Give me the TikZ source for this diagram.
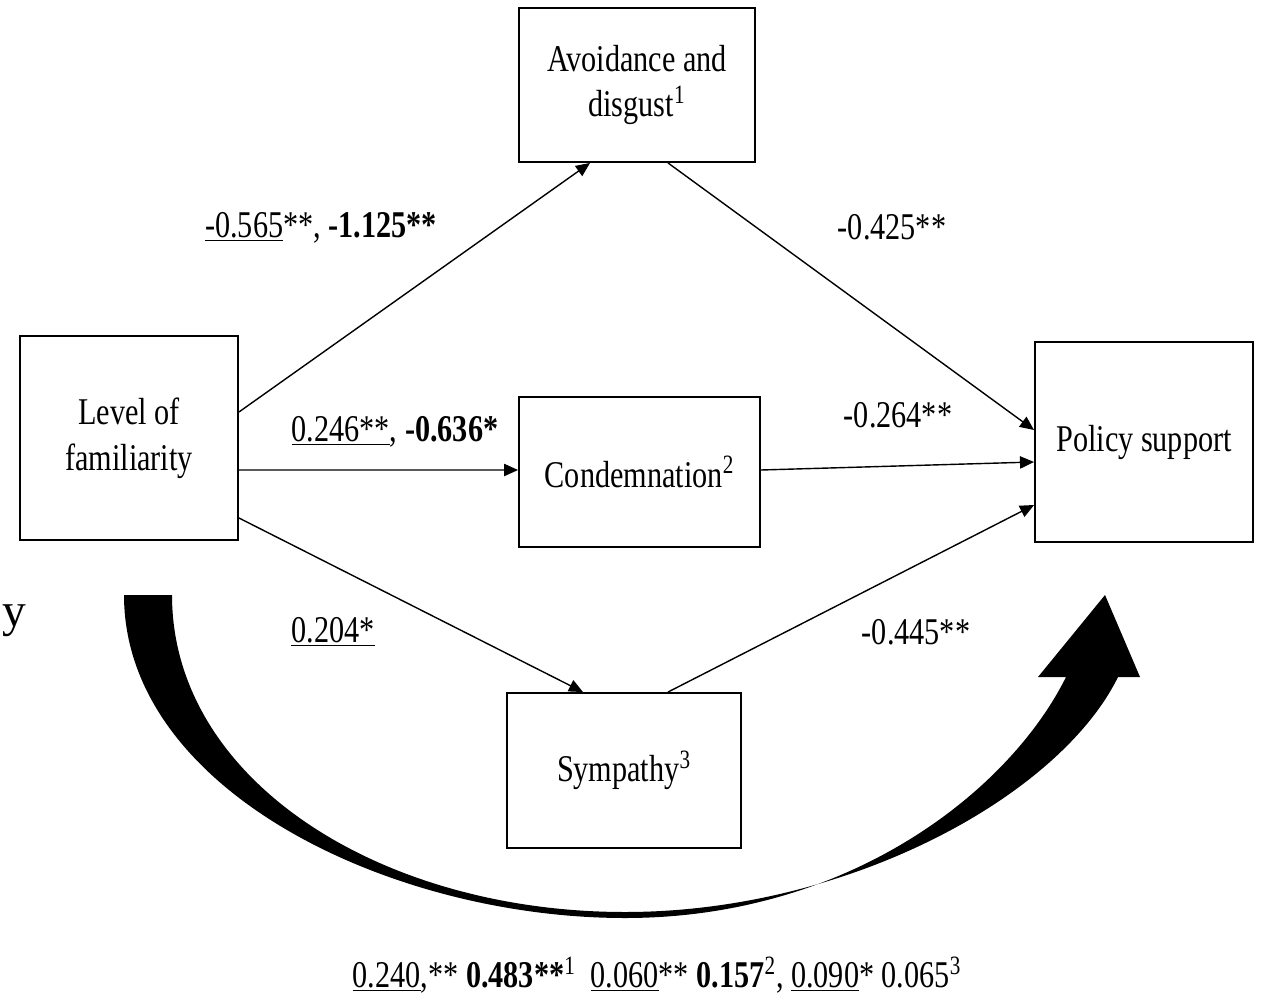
\documentclass[tikz,border=0pt]{standalone}
\usepackage{fontspec}
\setmainfont{Liberation Serif}[FakeStretch=0.8]
\newfontfamily\fontpiena{Liberation Serif}
\usetikzlibrary{arrows.meta}

\begin{document}
\begin{tikzpicture}[x=0.02cm, y=-0.02cm,
	scatola/.style={draw, line width=1.1pt, rectangle, align=center, inner sep=0pt, font=\fontsize{21.5}{26}\selectfont},
	freccia/.style={-{Triangle[length=8pt, width=7pt]}, line width=0.8pt},
	etichetta/.style={inner sep=0pt, font=\fontsize{21.5}{26}\selectfont}]
		
		\useasboundingbox (0,0) rectangle (1263,1000);
		
		%Disegno i nodi dello schema
		\node (livelloFamiliarita) at (129,438) [scatola, minimum width=4.36cm, minimum height=4.08cm]{Level of\\familiarity};
		
		\node (evitamentoDisgusto) at (637,85) [scatola, minimum width=4.72cm, minimum height=3.08cm]{Avoidance and\\disgust\textsuperscript{1}};
		
		\node (condanna) at (639.5,472) [scatola, minimum width=4.82cm, minimum height=3.0cm]{Condemnation\textsuperscript{2}};
		
		\node (simpatia) at (624,770.5) [scatola, minimum width=4.68cm, minimum height=3.1cm]{Sympathy\textsuperscript{3}};
		
		\node (supportoPolitiche) at (1144,442) [scatola, minimum width=4.36cm, minimum height=4.0cm]{Policy support};
		
		%Disegno i collegamenti
		\draw[freccia] ([yshift=0.52cm]livelloFamiliarita.east) -- ([xshift=-0.94cm]evitamentoDisgusto.south);
		
		\draw[freccia] ([yshift=-0.64cm]livelloFamiliarita.east) -- ([yshift=0.04cm]condanna.west);
		
		\draw[freccia] ([yshift=-1.6cm]livelloFamiliarita.east) -- ([xshift=-0.82cm]simpatia.north);
		
		\draw[freccia] ([xshift=0.62cm]evitamentoDisgusto.south) -- ([yshift=0.24cm]supportoPolitiche.west);
		
		\draw[freccia] ([yshift=0.04cm]condanna.east) -- ([yshift=-0.4cm]supportoPolitiche.west);
		
		\draw[freccia] ([xshift=0.88cm]simpatia.north) -- ([yshift=-1.26cm]supportoPolitiche.west);
		
		%Disegno i coefficienti
		\node (coeffEvitamento) at (321,228) [etichetta]{\underline{-0.565}**, \textbf{-1.125**}};
		
		\node (coeffCondanna) at (395,432) [etichetta]{\underline{0.246**}, \textbf{-0.636*}};
		
		\node (coeffSimpatia) at (333,632) [etichetta]{\underline{0.204*}};
		
		\node (coeffEvitamentoSupporto) at (892,227) [etichetta]{-0.425**};
		
		\node (coeffCondannaSupporto) at (898,415) [etichetta]{-0.264**};
		
		\node (coeffSimpatiaSupporto) at (916,632) [etichetta]{-0.445**};
		
		%Disegno la freccia curva dell'effetto totale
		\fill (124,595) .. controls (124,790) and (390,918) .. (625,918)
			.. controls (850,918) and (1010,790) .. (1066,677)
			-- (1038,677) -- (1105,595) -- (1140,677) -- (1118,677)
			.. controls (1060,795) and (850,912) .. (625,912)
			.. controls (380,912) and (172,780) .. (172,595) -- cycle;
		
		\node (coeffTotale) at (657,975) [etichetta]{\underline{0.240},** \textbf{0.483**}\textsuperscript{1}\ \ \underline{0.060}** \textbf{0.157}\textsuperscript{2}, \underline{0.090}* 0.065\textsuperscript{3}};
		
		\node (frammento) at (14,621) [inner sep=0pt, font=\fontpiena\fontsize{27}{30}\selectfont]{y};
		
\end{tikzpicture}
\end{document}
